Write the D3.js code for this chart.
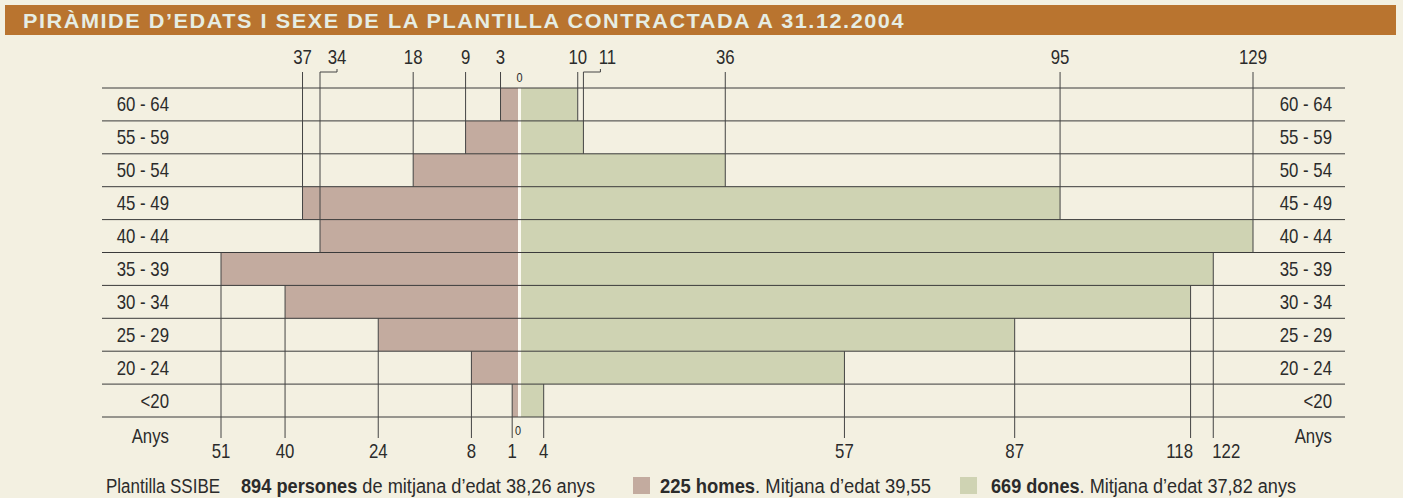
<!DOCTYPE html>
<html>
<head>
<meta charset="utf-8">
<script src="https://cdn.jsdelivr.net/npm/d3@7/dist/d3.min.js"></script>
<style>
body { margin: 0; background: #f3f0e1; }
text { font-family: 'Liberation Sans Narrow', 'Arial Narrow', 'Liberation Sans', sans-serif; fill: #2b2b2b; }
</style>
</head>
<body>
<div class="canvas"></div>
<script>
const ages = ['60 - 64', '55 - 59', '50 - 54', '45 - 49', '40 - 44', '35 - 39', '30 - 34', '25 - 29', '20 - 24', '<20'];
const homes = [3, 9, 18, 37, 34, 51, 40, 24, 8, 1];
const dones = [10, 11, 36, 95, 129, 122, 118, 87, 57, 4];
const titol = 'PIRÀMIDE D’EDATS I SEXE DE LA PLANTILLA CONTRACTADA A 31.12.2004';
const mitjanaTotal = '38,26';
const mitjanaHomes = '39,55';
const mitjanaDones = '37,82';

const colorH = '#c3ab9f';
const colorD = '#cfd3b3';
const narrow = 0.84;

// desplaçaments de les etiquetes que es trepitgen
const labelShift = { 'h|40 - 44': 17, 'd|55 - 59': 24, 'd|30 - 34': -11, 'd|35 - 39': 13 };

const svg = d3.select('.canvas')
    .append('svg')
    .attr('width', 1403)
    .attr('height', 498);

// capçalera
svg.append('rect')
    .attr('x', 5).attr('y', 5)
    .attr('width', 1391).attr('height', 30)
    .attr('fill', '#b9742f');
svg.append('text')
    .attr('x', 23).attr('y', 28)
    .attr('textLength', 882)
    .attr('lengthAdjust', 'spacingAndGlyphs')
    .attr('font-size', '21px')
    .attr('font-weight', 'bold')
    .attr('letter-spacing', '1.5px')
    .style('fill', '#e6ede3')
    .text(titol);

const rows = ages.map((a, i) => ({ age: a, h: homes[i], d: dones[i], top: i < 5 }));

const y = d3.scaleBand()
    .domain(ages)
    .range([88, 417]);

const xH = d3.scaleLinear()
    .domain([0, d3.max(homes)])
    .range([518, 221]);

const xD = d3.scaleLinear()
    .domain([0, d3.max(dones)])
    .range([521, 1253]);

// barres
svg.append('g').selectAll('rect')
    .data(rows)
    .enter()
    .append('rect')
    .attr('x', d => xH(d.h))
    .attr('y', d => y(d.age))
    .attr('width', d => xH(0) - xH(d.h))
    .attr('height', y.bandwidth())
    .attr('fill', colorH);

svg.append('g').selectAll('rect')
    .data(rows)
    .enter()
    .append('rect')
    .attr('x', xD(0))
    .attr('y', d => y(d.age))
    .attr('width', d => xD(d.d) - xD(0))
    .attr('height', y.bandwidth())
    .attr('fill', colorD);

svg.append('rect')
    .attr('x', xH(0)).attr('y', y.range()[0])
    .attr('width', xD(0) - xH(0))
    .attr('height', y.range()[1] - y.range()[0])
    .attr('fill', '#fbf9f0');

// línies de files
const edges = ages.map(a => y(a)).concat([y.range()[1]]);
svg.append('g').selectAll('line')
    .data(edges)
    .enter()
    .append('line')
    .attr('x1', 102).attr('x2', 1345)
    .attr('y1', d => d).attr('y2', d => d)
    .attr('stroke', '#3a3a3a')
    .attr('stroke-width', 1);

// text estret (no hi ha font condensada)
function narrowText(g, x, yPos, str, size, anchor) {
    return g.append('text')
        .attr('transform', `translate(${x},${yPos}) scale(${narrow},1)`)
        .attr('text-anchor', anchor)
        .attr('font-size', size)
        .text(str);
}

// etiquetes de files
const rowLabels = svg.append('g');
ages.forEach(a => {
    const yy = y(a) + y.bandwidth() / 2 + 7;
    narrowText(rowLabels, 169, yy, a, '20px', 'end');
    narrowText(rowLabels, 1332, yy, a, '20px', 'end');
});
narrowText(rowLabels, 169, 443, 'Anys', '20px', 'end');
narrowText(rowLabels, 1332, 443, 'Anys', '20px', 'end');

// valors amb guies
const marks = [];
rows.forEach(r => {
    marks.push({ key: 'h|' + r.age, v: r.h, x: xH(r.h), row: r });
    marks.push({ key: 'd|' + r.age, v: r.d, x: xD(r.d), row: r });
});

const guides = svg.append('g');
marks.forEach(m => {
    const shift = labelShift[m.key] || 0;
    const rowTop = y(m.row.age);
    const rowBottom = rowTop + y.bandwidth();
    let path;
    if (m.row.top) {
        path = shift
            ? `M${m.x + 17},69V72H${m.x}V${rowBottom}`
            : `M${m.x},72V${rowBottom}`;
    } else {
        path = `M${m.x},${rowTop}V438`;
    }
    guides.append('path')
        .attr('d', path)
        .attr('fill', 'none')
        .attr('stroke', '#444')
        .attr('stroke-width', 1);
    narrowText(guides, m.x + shift, m.row.top ? 64 : 458, m.v, '20px', 'middle');
});

narrowText(svg, (xH(0) + xD(0)) / 2, 82, '0', '13px', 'middle');
narrowText(svg, xH(0), 435, '0', '13px', 'middle');

// llegenda
const totalH = d3.sum(homes);
const totalD = d3.sum(dones);
const legend = svg.append('g').attr('font-size', '20px');

function legendText(x, w) {
    return legend.append('text')
        .attr('x', x).attr('y', 493)
        .attr('textLength', w)
        .attr('lengthAdjust', 'spacingAndGlyphs');
}

legendText(106, 114).text('Plantilla SSIBE');

const t1 = legendText(241, 354);
t1.append('tspan').attr('font-weight', 'bold').text(`${totalH + totalD} persones`);
t1.append('tspan').text(` de mitjana d’edat ${mitjanaTotal} anys`);

legend.append('rect').attr('x', 633).attr('y', 477).attr('width', 17).attr('height', 17).attr('fill', colorH);
const t2 = legendText(660, 271);
t2.append('tspan').attr('font-weight', 'bold').text(`${totalH} homes`);
t2.append('tspan').text(`. Mitjana d’edat ${mitjanaHomes}`);

legend.append('rect').attr('x', 960).attr('y', 477).attr('width', 17).attr('height', 17).attr('fill', colorD);
const t3 = legendText(991, 305);
t3.append('tspan').attr('font-weight', 'bold').text(`${totalD} dones`);
t3.append('tspan').text(`. Mitjana d’edat ${mitjanaDones} anys`);
</script>
</body>
</html>
